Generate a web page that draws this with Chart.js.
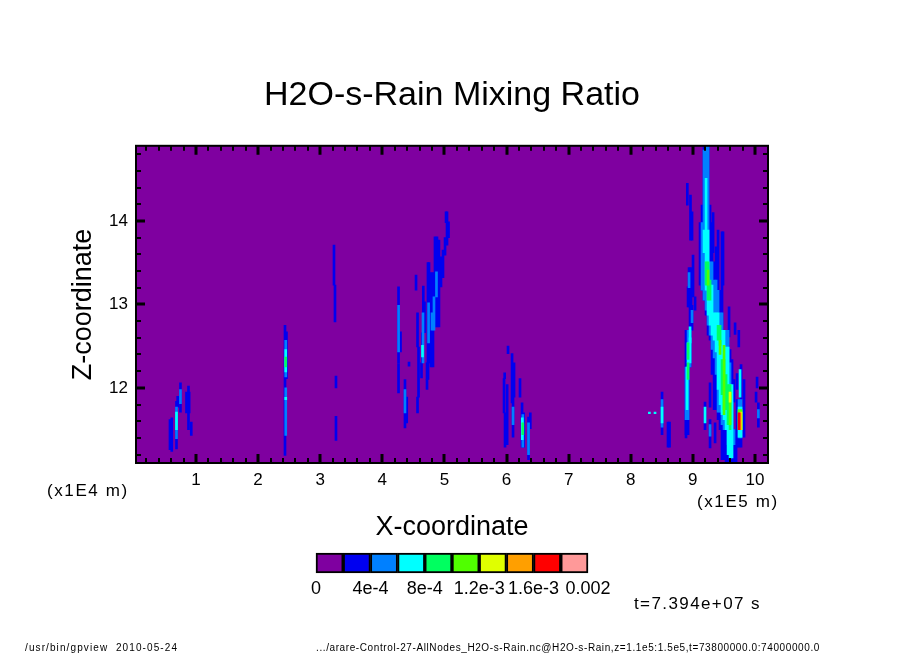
<!DOCTYPE html>
<html>
<head>
<meta charset="utf-8">
<title>H2O-s-Rain Mixing Ratio</title>
<script src="https://cdn.jsdelivr.net/npm/chart.js@4"></script>
<style>
body { margin: 0; background: #fff; }
#wrap { position: relative; width: 904px; height: 654px; overflow: hidden; }
#mainChart { position: absolute; left: 0; top: 0; }
#barChart { position: absolute; left: 300px; top: 540px; }
.note { position: absolute; color: #000; font-family: "Liberation Sans", sans-serif; white-space: pre; line-height: 1; }
</style>
</head>
<body>
<div id="wrap">
  <canvas id="mainChart" width="904" height="654"></canvas>
  <canvas id="barChart" width="320" height="60"></canvas>
  <div class="note" style="left:47px;top:482px;font-size:17px;letter-spacing:1.6px">(x1E4 m)</div>
  <div class="note" style="left:697px;top:493px;font-size:17px;letter-spacing:1.6px">(x1E5 m)</div>
  <div class="note" style="left:634px;top:595px;font-size:17px;letter-spacing:1.4px">t=7.394e+07 s</div>
  <div class="note" style="left:25px;top:643px;font-size:10px;letter-spacing:1.1px">/usr/bin/gpview  2010-05-24</div>
  <div class="note" style="left:316px;top:643px;font-size:10px;letter-spacing:.6px">.../arare-Control-27-AllNodes_H2O-s-Rain.nc@H2O-s-Rain,z=1.1e5:1.5e5,t=73800000.0:74000000.0</div>
</div>
<script>
// streaks: [x (1E5 m), z low (1E4 m), z high (1E4 m)]
const rainBlue = [
  [0.581,11.26,11.62],[0.61,11.24,11.64],[0.686,11.27,11.84],[0.705,11.77,11.90],[0.75,11.71,12.06],
  [0.847,11.70,11.95],[0.879,11.50,12.02],[0.89,11.70,11.95],[0.924,11.43,11.59],
  [2.433,11.19,12.75],[2.457,12.11,12.67],
  [3.222,13.23,13.71],[3.238,12.79,13.23],[3.254,12.00,12.14],[3.254,11.37,11.66],
  [4.261,12.30,13.21],[4.261,11.94,12.29],[4.293,12.43,12.67],[4.365,11.52,12.10],[4.393,11.58,11.89],
  [4.43,12.26,12.31],[4.543,13.17,13.35],[4.567,12.49,12.90],[4.583,11.89,12.49],[4.567,11.70,11.89],
  [4.66,12.90,13.22],[4.679,12.66,13.03],[4.645,12.30,12.66],[4.631,12.12,12.30],
  [4.752,12.30,13.50],[4.735,12.30,13.50],[4.72,12.10,12.30],[4.736,12.10,12.30],[4.72,11.98,12.10],
  [4.784,12.25,13.38],[4.816,12.25,13.38],[4.848,12.73,13.81],[4.88,12.73,13.81],[4.912,12.73,13.77],
  [4.945,13.21,13.57],[4.977,13.32,13.65],[5.01,13.59,13.80],[5.042,13.71,14.11],[5.066,13.80,13.99],[5.026,13.98,14.11],
  [5.96,11.70,12.11],[5.97,12.11,12.18],[5.976,11.29,11.70],[6.01,11.32,12.04],[6.024,12.41,12.50],
  [6.089,11.82,12.41],[6.121,11.89,12.30],[6.105,11.41,11.89],[6.217,11.89,12.11],[6.25,11.29,11.82],
  [6.275,11.29,11.70],[6.354,11.14,11.65],[6.383,11.51,11.70],
  [8.504,11.44,11.95],[8.6,11.29,11.59],[8.625,11.29,11.59],
  [8.911,14.19,14.45],[8.962,13.77,14.31],[8.987,13.77,14.11],[9.003,13.09,13.59],[8.939,12.97,13.44],
  [8.971,12.97,13.44],[8.923,12.97,13.21],[9.036,12.93,13.09],[8.955,12.69,12.99],[8.987,12.69,12.99],
  [8.89,12.25,12.69],[8.923,12.25,12.69],[8.955,12.25,12.69],[8.89,11.44,12.25],[8.923,11.44,12.25],[8.89,11.40,11.74],
  [9.116,13.23,13.98],[9.148,13.17,14.19],[9.18,13.05,14.90],[9.213,12.87,14.90],[9.245,12.63,14.90],
  [9.277,12.57,14.19],[9.309,12.16,13.98],[9.342,11.74,13.51],[9.326,13.62,14.10],[9.374,11.74,13.69],
  [9.406,11.62,13.89],[9.438,11.50,13.17],[9.47,11.14,13.87],[9.486,13.23,13.87],[9.502,11.14,12.69],
  [9.535,11.11,12.66],[9.567,11.11,12.51],[9.583,12.61,12.97],[9.599,11.11,12.46],[9.631,11.11,12.34],
  [9.663,11.83,12.10],[9.663,11.11,11.50],[9.696,11.11,11.50],
  [9.196,11.50,11.83],[9.277,11.77,12.06],[9.277,11.28,11.62],[9.358,11.34,11.58],
  [9.712,11.98,12.17],[9.712,11.29,11.86],[9.744,11.29,11.86],[9.776,11.29,12.28],[9.824,11.41,12.10],
  [9.68,12.64,12.78],[9.74,12.49,12.69],[10.034,12.00,12.13],[10.018,11.83,11.95],[10.055,11.53,11.82]
];
const rainAzure = [
  [0.686,11.39,11.77],[0.75,11.81,11.98],[2.445,12.13,12.57],[2.445,11.90,12.00],[2.445,11.43,11.89],
  [4.262,12.43,12.99],[4.365,11.70,11.98],[4.655,12.30,12.90],[4.745,12.54,13.02],[4.8,12.69,12.90],
  [4.832,12.69,13.09],[4.872,13.09,13.39],
  [6.105,11.56,11.77],[6.262,11.29,11.68],[6.354,11.20,11.58],[8.504,11.53,11.86],
  [8.939,13.20,13.38],[8.987,12.78,12.93],[8.923,12.25,12.69],[8.955,12.25,12.69],[8.89,11.62,12.25],[8.923,11.62,12.25],
  [9.277,11.42,11.56],
  [9.148,13.17,13.98],[9.18,13.05,14.85],[9.213,12.93,14.90],[9.245,12.75,14.90],[9.277,12.63,13.51],
  [9.309,12.46,13.51],[9.342,12.36,13.29],[9.374,12.16,13.29],[9.406,11.71,13.17],[9.438,11.71,12.90],
  [9.47,11.56,12.90],[9.502,11.50,12.69],[9.535,11.50,12.69],[9.567,11.32,12.69],[9.599,11.32,12.30],
  [9.631,11.32,11.83],[9.663,11.32,11.50],
  [9.744,11.40,11.86],[9.776,11.40,11.86],[10.055,11.64,11.74]
];
const rainCyan = [
  [0.686,11.50,11.71],[2.445,12.19,12.46],[2.445,11.86,11.89],[4.647,12.37,12.51],[6.254,11.38,11.64],
  [8.504,11.58,11.77],[8.3,11.69,11.71],[8.391,11.69,11.71],[9.196,11.58,11.77],
  [8.955,12.54,12.73],[8.923,12.30,12.54],[8.955,12.30,12.60],[8.907,11.74,12.25],
  [9.18,13.62,13.89],[9.213,13.17,14.51],[9.245,12.87,13.89],[9.277,12.75,13.23],[9.309,12.63,13.23],
  [9.342,12.57,12.90],[9.374,12.43,12.90],[9.406,11.98,12.90],[9.438,11.80,12.69],[9.47,11.68,12.69],
  [9.502,11.62,12.69],[9.535,11.50,12.49],[9.567,11.20,12.49],[9.599,11.16,12.04],[9.631,11.16,12.04],
  [9.76,11.89,12.22],[9.744,11.41,11.77],[9.776,11.41,11.77]
];
const rainSpring = [
  [2.445,12.25,12.37],[6.262,11.44,11.58],[8.923,12.34,12.54],[8.923,12.10,12.30],
  [9.213,13.23,13.51],[9.245,13.05,13.51],[9.277,13.05,13.29],[9.406,12.57,12.75],[9.438,12.51,12.75],
  [9.47,11.92,12.34],[9.502,11.74,12.34],[9.535,11.74,12.16],[9.567,11.56,12.04],[9.599,11.50,12.04]
];
const rainGreen = [
  [9.245,13.23,13.41],[9.438,12.40,12.57],[9.502,11.68,12.51],[9.599,11.56,11.95],[9.744,11.50,11.74],[9.776,11.50,11.74]
];
const rainLime = [[9.599,11.83,11.95],[9.776,11.50,11.71]];
const rainOrange = [[9.76,11.50,11.70]];
const rainRed = [[9.744,11.50,11.70]];
const rainPink = [];

const rainLevels = [rainBlue, rainAzure, rainCyan, rainSpring, rainGreen, rainLime, rainOrange, rainRed, rainPink];
const bandColors = ['#7f00a0', '#0000f0', '#0080ff', '#00ffff', '#00ff60', '#50ff00', '#e0ff00', '#ff9f00', '#ff0000', '#ff9999'];

const xLabels = [1, 2, 3, 4, 5, 6, 7, 8, 9, 10];
const zLabels = [12, 13, 14];
const colorbarEdges = [0, 2e-4, 4e-4, 6e-4, 8e-4, 1e-3, 1.2e-3, 1.4e-3, 1.6e-3, 1.8e-3, 2e-3];
const colorbarTicks = [0, 4e-4, 8e-4, 1.2e-3, 1.6e-3, 2e-3];
const colorbarLabels = ['0', '4e-4', '8e-4', '1.2e-3', '1.6e-3', '0.002'];

const fontName = '"Liberation Sans", sans-serif';

// tick lists with the minor ticks every 0.2
const xTicks = [];
for (let i = 1; i <= 50; i++) xTicks.push({ value: i / 5 });
const zTicks = [];
for (let i = 56; i <= 74; i++) zTicks.push({ value: i / 5 });

// purple field, inward ticks and the frame
const framePlugin = {
  id: 'frame',
  beforeDatasetsDraw(chart) {
    const a = chart.chartArea;
    chart.ctx.fillStyle = bandColors[0];
    chart.ctx.fillRect(a.left, a.top, a.width, a.height);
  },
  afterDatasetsDraw(chart) {
    const ctx = chart.ctx;
    const a = chart.chartArea;
    ctx.save();
    ctx.strokeStyle = '#000';
    chart.scales.x.ticks.forEach(t => {
      const px = Math.round(chart.scales.x.getPixelForValue(t.value));
      const major = xLabels.includes(t.value);
      const len = major ? 9 : 5;
      ctx.lineWidth = major ? 3 : 2;
      ctx.beginPath();
      ctx.moveTo(px, a.bottom); ctx.lineTo(px, a.bottom - len);
      ctx.moveTo(px, a.top); ctx.lineTo(px, a.top + len);
      ctx.stroke();
    });
    chart.scales.y.ticks.forEach(t => {
      const py = Math.round(chart.scales.y.getPixelForValue(t.value));
      const major = zLabels.includes(t.value);
      const len = major ? 9 : 5;
      ctx.lineWidth = major ? 3 : 2;
      ctx.beginPath();
      ctx.moveTo(a.left, py); ctx.lineTo(a.left + len, py);
      ctx.moveTo(a.right, py); ctx.lineTo(a.right - len, py);
      ctx.stroke();
    });
    ctx.lineWidth = 2;
    ctx.strokeRect(a.left, a.top, a.width, a.height);
    ctx.restore();
  }
};

new Chart(document.getElementById('mainChart').getContext('2d'), {
  type: 'bar',
  data: {
    datasets: rainLevels.map((rows, i) => ({
      label: 'level ' + (i + 1),
      data: rows.map(r => ({ x: r[0], y: [r[1], r[2]] })),
      backgroundColor: bandColors[i + 1],
      barThickness: 2,
      grouped: false,
      borderWidth: 0,
      order: 10 - i
    }))
  },
  options: {
    responsive: false,
    animation: false,
    devicePixelRatio: 1,
    plugins: {
      legend: { display: false },
      tooltip: { enabled: false },
      title: {
        display: true,
        text: 'H2O-s-Rain Mixing Ratio',
        color: '#000',
        font: { family: fontName, size: 34, weight: 'normal' },
        padding: { top: 75, bottom: 30 }
      }
    },
    scales: {
      x: {
        type: 'linear',
        offset: false,
        min: 0.034,
        max: 10.21,
        grid: { display: false, tickLength: 0 },
        border: { display: false },
        afterFit: s => { s.height = 191; },
        afterBuildTicks: s => { s.ticks = xTicks.slice(); },
        ticks: {
          autoSkip: false,
          maxRotation: 0,
          color: '#000',
          padding: 7,
          font: { family: fontName, size: 17 },
          callback: v => xLabels.includes(v) ? String(v) : ''
        },
        title: {
          display: true,
          text: 'X-coordinate',
          color: '#000',
          font: { family: fontName, size: 27 },
          padding: { bottom: 110 }
        }
      },
      y: {
        type: 'linear',
        min: 11.1,
        max: 14.9,
        grid: { display: false, tickLength: 0 },
        border: { display: false },
        afterFit: s => { s.width = 136; },
        afterBuildTicks: s => { s.ticks = zTicks.slice(); },
        ticks: {
          autoSkip: false,
          color: '#000',
          padding: 8,
          font: { family: fontName, size: 17 },
          callback: v => zLabels.includes(v) ? String(v) : ''
        },
        title: {
          display: true,
          text: 'Z-coordinate',
          color: '#000',
          font: { family: fontName, size: 27 },
          padding: { top: 67 }
        }
      },
      // empty axis, keeps the plot centred under the title
      right: {
        type: 'linear',
        position: 'right',
        grid: { display: false, tickLength: 0 },
        border: { display: false },
        ticks: { display: false },
        afterFit: s => { s.width = 136; }
      }
    }
  },
  plugins: [framePlugin]
});

// the colour key under the plot
new Chart(document.getElementById('barChart').getContext('2d'), {
  type: 'bar',
  data: {
    labels: ['rain'],
    datasets: bandColors.map((c, i) => ({
      label: 'band ' + i,
      data: [[colorbarEdges[i], colorbarEdges[i + 1]]],
      backgroundColor: c,
      borderColor: '#000',
      borderWidth: 2,
      borderSkipped: false,
      grouped: false,
      barPercentage: 1,
      categoryPercentage: 1,
      clip: false
    }))
  },
  options: {
    indexAxis: 'y',
    responsive: false,
    animation: false,
    devicePixelRatio: 1,
    layout: { padding: { left: 16, right: 32, top: 13 } },
    plugins: { legend: { display: false }, tooltip: { enabled: false } },
    scales: {
      y: { display: false },
      x: {
        type: 'linear',
        offset: false,
        min: 0,
        max: 2e-3,
        grid: { display: false, tickLength: 0 },
        border: { display: false },
        afterFit: s => { s.height = 27; },
        afterBuildTicks: s => { s.ticks = colorbarTicks.map(v => ({ value: v })); },
        ticks: {
          autoSkip: false,
          maxRotation: 0,
          color: '#000',
          padding: 5,
          font: { family: fontName, size: 18 },
          callback: (v, i) => colorbarLabels[i]
        }
      }
    }
  }
});
</script>
</body>
</html>
